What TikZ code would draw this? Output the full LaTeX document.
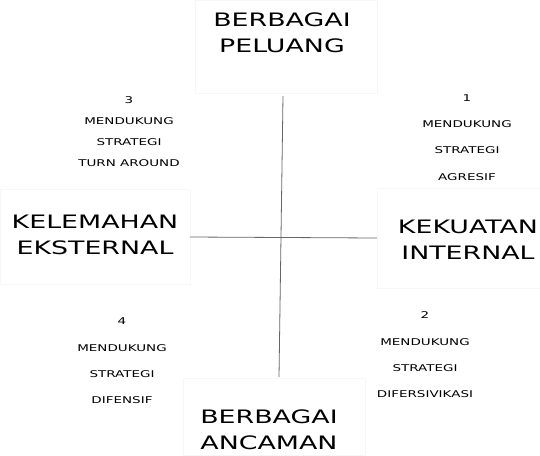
\documentclass[tikz,border=0pt]{standalone}
\usepackage{fontspec}
\newfontfamily\widesans[FakeStretch=1.45]{DejaVu Sans}
\begin{document}
\begin{tikzpicture}[x=1pt,y=-1pt,
  faintbox/.style={draw=black!3,inner sep=0pt},
  bigtext/.style={font=\widesans\fontsize{18.5}{26.5}\selectfont,align=center,inner sep=0pt},
  smalltext/.style={font=\widesans\fontsize{9.3}{26.3}\selectfont,align=center,inner sep=0pt}]
\useasboundingbox (0,0) rectangle (540,455);

% faint boxes behind the four headings
\node[faintbox,minimum width=182pt,minimum height=93pt] (boxpeluang) at (286,46.5) {};
\node[faintbox,minimum width=182pt,minimum height=77pt] (boxancaman) at (274,416.5) {};
\node[faintbox,minimum width=190pt,minimum height=95pt] (boxkelemahan) at (95,237) {};
\node[faintbox,minimum width=163pt,minimum height=100pt] (boxkekuatan) at (458.5,238) {};

\node[bigtext] (peluang) at (282,33) {BERBAGAI\\PELUANG};
\node[bigtext] (kelemahan) at (95,235) {KELEMAHAN\\EKSTERNAL};
\node[bigtext] (kekuatan) at (468,240) {KEKUATAN\\INTERNAL};
\node[bigtext] (ancaman) at (269,430) {BERBAGAI\\ANCAMAN};

\node[smalltext,font=\widesans\fontsize{9.3}{21}\selectfont] (kuadran3) at (129,132) {3\\MENDUKUNG\\STRATEGI\\TURN AROUND};
\node[smalltext] (kuadran1) at (467,137.5) {1\\MENDUKUNG\\STRATEGI\\AGRESIF};
\node[smalltext] (kuadran4) at (122,361) {4\\MENDUKUNG\\STRATEGI\\DIFENSIF};
\node[smalltext] (kuadran2) at (425,355) {2\\MENDUKUNG\\STRATEGI\\DIFERSIVIKASI};

% axes
\coordinate (atas) at (283,96);
\coordinate (bawah) at (279,377);
\draw[black!60,line width=0.8pt] (atas) -- (bawah);
\draw[black!60,line width=0.8pt] (boxkelemahan.east) -- (boxkekuatan.west);

\end{tikzpicture}
\end{document}
